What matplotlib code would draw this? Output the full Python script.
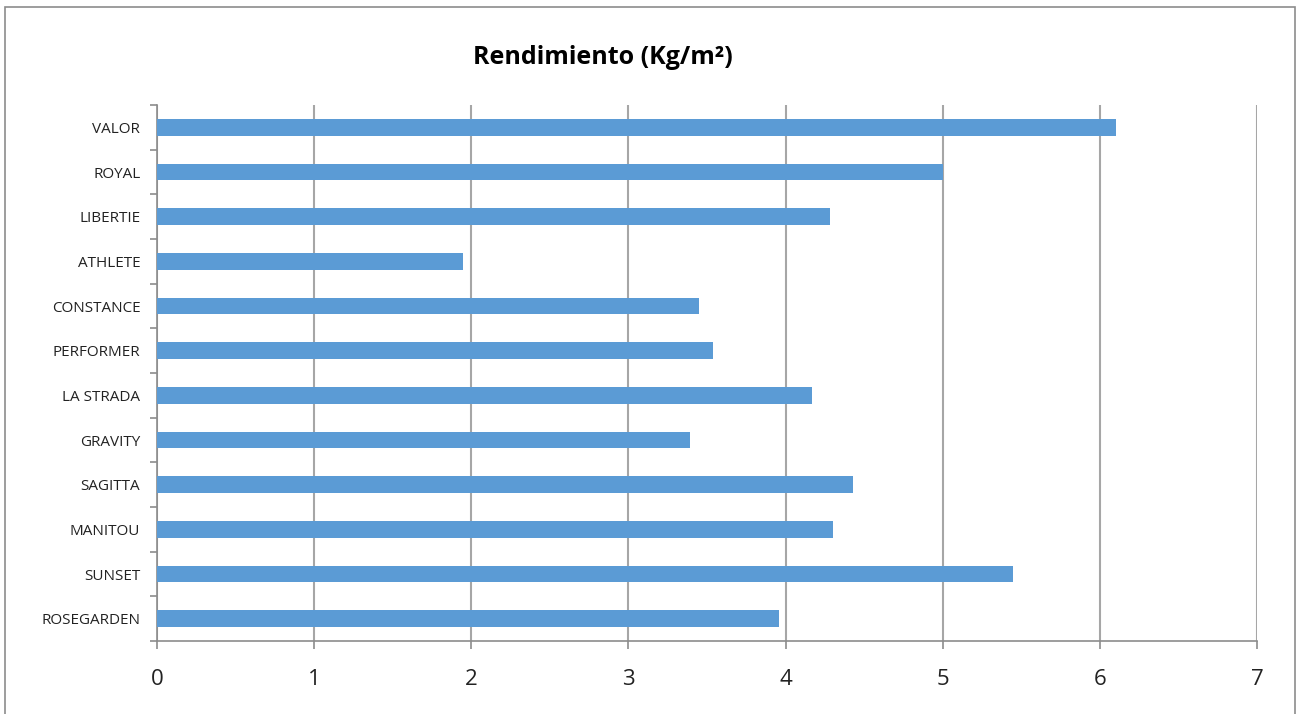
import matplotlib.pyplot as plt
from matplotlib.patches import Rectangle

categories = ["ROSEGARDEN", "SUNSET", "MANITOU", "SAGITTA", "GRAVITY", "LA STRADA",
              "PERFORMER", "CONSTANCE", "ATHLETE", "LIBERTIE", "ROYAL", "VALOR"]
values = [3.96, 5.45, 4.30, 4.43, 3.39, 4.17, 3.54, 3.45, 1.95, 4.28, 5.00, 6.10]
xticks = [0, 1, 2, 3, 4, 5, 6, 7]

W, H = 1301, 714
fig = plt.figure(figsize=(W / 100, H / 100), dpi=100)
plt.rcParams['font.family'] = ['Open Sans', 'DejaVu Sans']

# outer chart border (bottom edge is cut off in the original)
fig.patches.append(Rectangle((5 / W, -0.01), 1290 / W, (H - 7) / H + 0.01,
                             transform=fig.transFigure, fill=False,
                             edgecolor="#8c8c8c", linewidth=1.2))

ax = fig.add_axes([157 / W, 1 - 641 / H, 1100 / W, 536 / H])
pos = list(range(len(categories)))
ax.barh(pos, values, height=0.38, color="#5b9bd5", zorder=3)

ax.set_xlim(0, 7)
ax.set_ylim(-0.5, len(categories) - 0.5)
ax.set_xticks(xticks)
ax.set_xticklabels([str(t) for t in xticks], fontsize=16, color="#222222")
ax.set_yticks(pos)
ax.set_yticklabels(categories, fontsize=11, color="#222222")
ax.tick_params(axis="y", length=0, pad=12)
ax.set_yticks([p - 0.5 for p in pos] + [len(categories) - 0.5], minor=True)
ax.tick_params(axis="y", which="minor", length=5, color="#8c8c8c", width=1.2)
ax.tick_params(axis="x", length=6, color="#8c8c8c", width=1.2, pad=14)

ax.grid(axis="x", color="#a6a6a6", linewidth=1.5, zorder=0)
for side in ["top", "right"]:
    ax.spines[side].set_visible(False)
for side in ["left", "bottom"]:
    ax.spines[side].set_color("#8c8c8c")
    ax.spines[side].set_linewidth(1.2)

fig.text(603 / W, 1 - 58 / H, "Rendimiento (Kg/m²)", ha="center", va="center",
         fontsize=18, fontweight="bold", color="#000000")

fig.savefig("out.png", dpi=100)
